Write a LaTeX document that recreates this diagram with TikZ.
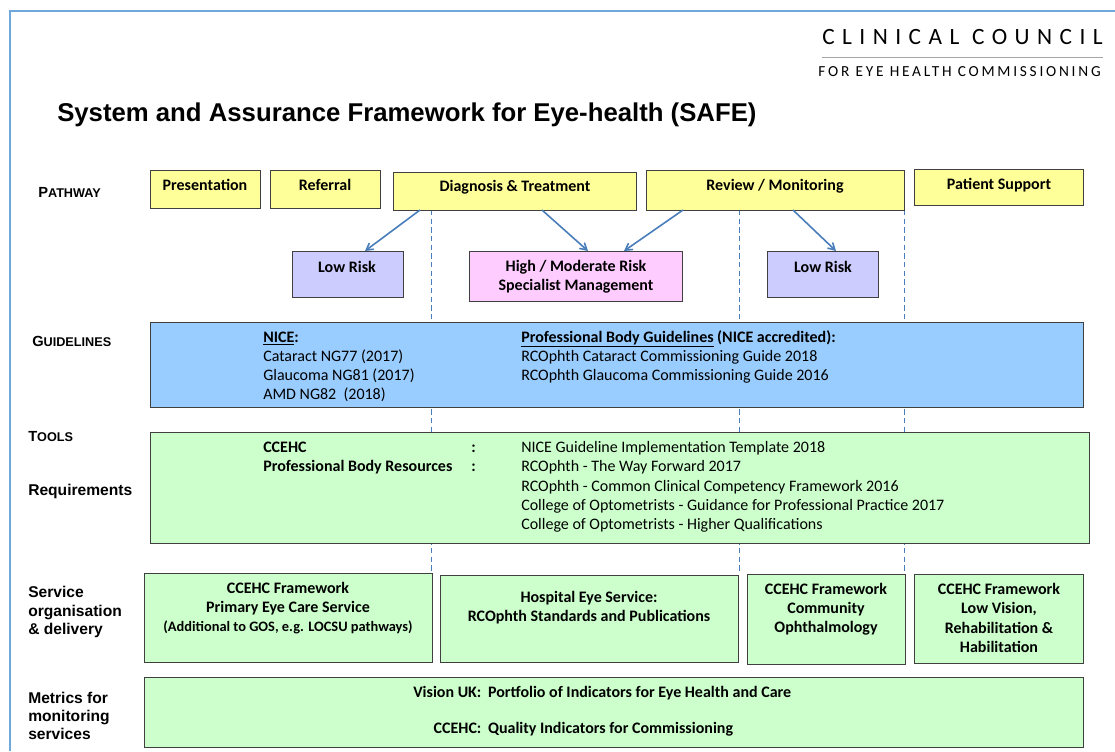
\documentclass[tikz,border=0pt]{standalone}
\usepackage{fontspec}
\setmainfont{Carlito}
\newfontfamily\arialfont{Liberation Sans}
\newfontfamily\headfont[LetterSpace=32]{Carlito}
\newfontfamily\subheadfont[LetterSpace=18]{Carlito}
\usepackage{xcolor}
\usetikzlibrary{arrows,backgrounds,calc}
\definecolor{pathYellow}{HTML}{FFFF99}
\definecolor{riskLow}{HTML}{CCCCFF}
\definecolor{riskHigh}{HTML}{FFCCFF}
\definecolor{guideBlue}{HTML}{99CCFF}
\definecolor{toolGreen}{HTML}{CCFFCC}
\definecolor{boxLine}{HTML}{404040}
\definecolor{arrowBlue}{HTML}{4A7EBB}
\definecolor{frameBlue}{HTML}{6FA8DC}
\newcommand{\capslabel}[2]{{\fontsize{11}{13}\selectfont #1}{\fontsize{9.5}{13}\selectfont #2}}
\tikzset{
  box/.style={draw=boxLine, line width=0.75pt, inner sep=0pt, outer sep=0pt, anchor=north west},
  pathbox/.style={box, fill=pathYellow},
  lowbox/.style={box, fill=riskLow},
  highbox/.style={box, fill=riskHigh},
  bluepanel/.style={box, fill=guideBlue},
  greenpanel/.style={box, fill=toolGreen},
  boxtext/.style={font=\bfseries\fontsize{12}{14.4}\selectfont, align=center, inner sep=0pt},
  listtext/.style={font=\fontsize{12}{14.4}\selectfont, align=left, anchor=west, inner sep=0pt},
  sidelabel/.style={font=\arialfont\bfseries\fontsize{11.7}{13.6}\selectfont, align=left, anchor=west, inner sep=0pt},
  patharrow/.style={draw=arrowBlue, line width=1.2pt, -angle 60},
  guide/.style={draw=arrowBlue, line width=0.75pt, dash pattern=on 4pt off 2.5pt},
}
\begin{document}
\begin{tikzpicture}[x=0.75pt, y=-0.75pt]
\useasboundingbox (0,0) rectangle (1115,751);
\draw[frameBlue, line width=1.5pt] (1115,11) -- (9.5,11) -- (9.5,751);

\node[anchor=east, inner sep=0pt, font=\headfont\fontsize{17.5}{20}\selectfont] (council) at (1103,37) {CLINICAL COUNCIL};
\draw[gray!70, line width=0.75pt] (822,57) -- (1103,57);
\node[anchor=east, inner sep=0pt, font=\subheadfont\fontsize{11.5}{13}\selectfont] (forEye) at (1101,72) {FOR EYE HEALTH COMMISSIONING};
\node[anchor=west, inner sep=0pt, font=\arialfont\bfseries\fontsize{19.3}{23}\selectfont] (title) at (57,115) {System and Assurance Framework for Eye-health (SAFE)};

\node[sidelabel] (lPath) at (38,192) {\capslabel{P}{ATHWAY}};
\node[sidelabel] (lGuide) at (32,341) {\capslabel{G}{UIDELINES}};
\node[sidelabel] (lTools) at (28,437) {\capslabel{T}{OOLS}};
\node[sidelabel] (lReq) at (28,491) {Requirements};
\node[sidelabel] (lServ) at (28,612) {Service\\organisation\\\& delivery};
\node[sidelabel] (lMetric) at (28,716) {Metrics for\\monitoring\\services};

\node[pathbox, minimum width=82.5pt, minimum height=28.5pt] (pres) at (150,170) {};
\node[pathbox, minimum width=82.5pt, minimum height=28.5pt] (refer) at (270,170) {};
\node[pathbox, minimum width=182.25pt, minimum height=28.5pt] (diag) at (393,172) {};
\node[pathbox, minimum width=193.5pt, minimum height=30pt] (review) at (646,170) {};
\node[pathbox, minimum width=126.75pt, minimum height=27pt] (support) at (914,169) {};
\node[boxtext] (presT) at (205,185) {Presentation};
\node[boxtext] (referT) at (325,185) {Referral};
\node[boxtext] (diagT) at (515,187) {Diagnosis \& Treatment};
\node[boxtext] (reviewT) at (775,186) {Review / Monitoring};
\node[boxtext] (supportT) at (999,185) {Patient Support};

\node[lowbox, minimum width=83.25pt, minimum height=34.5pt] (lowL) at (292,251) {};
\node[highbox, minimum width=159.75pt, minimum height=37.5pt] (high) at (469,251) {};
\node[lowbox, minimum width=83.25pt, minimum height=34.5pt] (lowR) at (767,251) {};
\node[boxtext] (lowLT) at (347,267) {Low Risk};
\node[boxtext] (highT) at (576,277) {High / Moderate Risk\\Specialist Management};
\node[boxtext] (lowRT) at (823,267) {Low Risk};

\draw[patharrow] ([xshift=20.25pt]diag.south west) -- ([xshift=54.75pt]lowL.north west);
\draw[patharrow] ([xshift=111.75pt]diag.south west) -- ([xshift=89.25pt]high.north west);
\draw[patharrow] ([xshift=27.75pt]review.south west) -- ([xshift=116.25pt]high.north west);
\draw[patharrow] ([xshift=110.25pt]review.south west) -- ([xshift=51.75pt]lowR.north west);

\node[bluepanel, minimum width=699.75pt, minimum height=63.75pt] (guidelines) at (150,322) {};
\node[listtext] (niceT) at (263,367) {\textbf{\underline{NICE}:}\\Cataract NG77 (2017)\\Glaucoma NG81 (2017)\\AMD NG82\ \ (2018)};
\node[listtext] (profT) at (521,357) {\textbf{\underline{Professional Body Guidelines} (NICE accredited):}\\RCOphth Cataract Commissioning Guide 2018\\RCOphth Glaucoma Commissioning Guide 2016};

\node[greenpanel, minimum width=704.25pt, minimum height=83.25pt] (tools) at (150,432) {};
\node[listtext, font=\bfseries\fontsize{12}{14.4}\selectfont] (toolSrc) at (263,458) {CCEHC\\Professional Body Resources};
\node[listtext, font=\bfseries\fontsize{12}{14.4}\selectfont] (toolColon) at (471,458) {:\\:};
\node[listtext] (toolList) at (521,487) {NICE Guideline Implementation Template 2018\\RCOphth - The Way Forward 2017\\RCOphth - Common Clinical Competency Framework 2016\\College of Optometrists - Guidance for Professional Practice 2017\\College of Optometrists - Higher Qualifications};

\node[greenpanel, minimum width=216pt, minimum height=66.75pt] (primary) at (144,573) {};
\node[greenpanel, minimum width=223.5pt, minimum height=65.25pt] (hospital) at (440,575) {};
\node[greenpanel, minimum width=118.5pt, minimum height=67.5pt] (community) at (747,574) {};
\node[greenpanel, minimum width=126.75pt, minimum height=66.75pt] (lowVision) at (914,574) {};
\node[boxtext] (primaryT) at (288,608) {CCEHC Framework\\Primary Eye Care Service\\{\fontsize{10.8}{14.4}\selectfont (Additional to GOS, e.g. LOCSU pathways)}};
\node[boxtext] (hospitalT) at (589,608) {Hospital Eye Service:\\RCOphth Standards and Publications};
\node[boxtext] (communityT) at (826,609) {CCEHC Framework\\Community\\Ophthalmology};
\node[boxtext] (lowVisionT) at (999,618) {CCEHC Framework\\Low Vision,\\Rehabilitation \&\\Habilitation};

\node[greenpanel, minimum width=704.25pt, minimum height=52.5pt] (metrics) at (144,677) {};
\node[listtext, font=\bfseries\fontsize{12}{14.4}\selectfont] (metricsT) at (413,712) {\begin{tabular}{@{}r@{\hspace{5pt}}l@{}}Vision UK: & Portfolio of Indicators for Eye Health and Care\\[12.6pt] CCEHC: & Quality Indicators for Commissioning\end{tabular}};

\coordinate (g1) at (431,0);
\coordinate (g2) at (739,0);
\coordinate (g3) at (904,0);
\begin{scope}[on background layer]
\fill[white] (0,0) rectangle (1115,751);
\draw[guide] (g1 |- diag.south) -- (g1 |- primary.north);
\draw[guide] (g2 |- review.south) -- (g2 |- primary.north);
\draw[guide] (g3 |- review.south) -- (g3 |- primary.north);
\end{scope}
\end{tikzpicture}
\end{document}
